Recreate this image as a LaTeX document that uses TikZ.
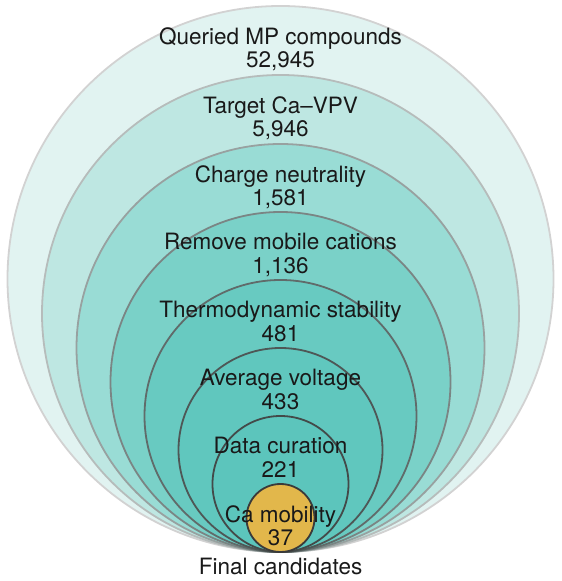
\documentclass[tikz,border=0pt]{standalone}
\usepackage{fontspec}
\setmainfont{TeX Gyre Heros}
\usepackage{xcolor}
\usepackage{tikz}
\usetikzlibrary{
positioning,
shapes.geometric
}

\definecolor{fillA}{HTML}{E1F3F1}
\definecolor{fillB}{HTML}{BEE7E2}
\definecolor{fillC}{HTML}{99DCD5}
\definecolor{fillD}{HTML}{7AD1C8}
\definecolor{fillE}{HTML}{68CAC1}
\definecolor{fillF}{HTML}{60C7BE}
\definecolor{fillG}{HTML}{5CC5BC}
\definecolor{fillH}{HTML}{E2B74B}
\definecolor{rimA}{HTML}{D2D2D2}
\definecolor{rimB}{HTML}{B6BCBB}
\definecolor{rimC}{HTML}{98A1A0}
\definecolor{rimD}{HTML}{7A8584}
\definecolor{rimE}{HTML}{606B6A}
\definecolor{rimF}{HTML}{4E5756}
\definecolor{rimG}{HTML}{434A49}
\definecolor{rimH}{HTML}{3A3A3A}

\begin{document}
\begin{tikzpicture}[
x=1pt,y=1pt,
ring/.style={
circle,
inner sep=0pt,
line width=1.8pt
},
lbl/.style={
align=center,
inner sep=0pt,
text=black!90,
font=\fontsize{22.5}{23.5}\selectfont
}
]
\useasboundingbox (0,0) rectangle (562,581);

% filter stages, all touching at the bottom
\node[ring, fill=fillA, draw=rimA, minimum size=546pt] (c1) at (280.5,302) {};
\node[ring, fill=fillB, draw=rimB, minimum size=477pt] (c2) at (280.5,267.5) {};
\node[ring, fill=fillC, draw=rimC, minimum size=408pt] (c3) at (280.5,233) {};
\node[ring, fill=fillD, draw=rimD, minimum size=340pt] (c4) at (280.5,199) {};
\node[ring, fill=fillE, draw=rimE, minimum size=272pt] (c5) at (280.5,165) {};
\node[ring, fill=fillF, draw=rimF, minimum size=204pt] (c6) at (280.5,131) {};
\node[ring, fill=fillG, draw=rimG, minimum size=136pt] (c7) at (280.5,97) {};
\node[ring, fill=fillH, draw=rimH, minimum size=68pt] (c8) at (280.5,63) {};

% stage labels
\node[lbl, below=22pt of c1.north] (l1) {Queried MP compounds\\52,945};
\node[lbl, below=22pt of c2.north] (l2) {Target Ca–VPV\\5,946};
\node[lbl, below=22pt of c3.north] (l3) {Charge neutrality\\1,581};
\node[lbl, below=22pt of c4.north] (l4) {Remove mobile cations\\1,136};
\node[lbl, below=22pt of c5.north] (l5) {Thermodynamic stability\\481};
\node[lbl, below=22pt of c6.north] (l6) {Average voltage\\433};
\node[lbl, below=22pt of c7.north] (l7) {Data curation\\221};
\node[lbl, below=22pt of c8.north] (l8) {Ca mobility\\37};

\node[lbl, below=5pt of c1.south] (fin) {Final candidates};

\end{tikzpicture}
\end{document}
